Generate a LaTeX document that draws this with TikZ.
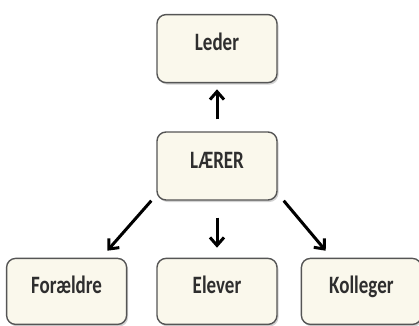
\documentclass[tikz,border=0pt]{standalone}
\usepackage{fontspec}
\setmainfont{Carlito}[FakeStretch=0.76]
\usepackage{tikz}
\usetikzlibrary{arrows.meta, positioning, shadows}
\definecolor{boxfill}{HTML}{FAF8EC}
\definecolor{boxline}{HTML}{555555}
\definecolor{textgray}{HTML}{2E2E2E}

\begin{document}
\begin{tikzpicture}[
        x=1pt, y=1pt,
        node distance=48pt and 29pt,
        box/.style={rectangle, rounded corners=9pt, draw=boxline, fill=boxfill, line width=1.4pt,
                   minimum height=68pt, minimum width=120pt, align=center,
                   text height=0.62em, text depth=0.22em,
                   text=textgray, font=\fontsize{25}{28}\selectfont\bfseries,
                   drop shadow={shadow xshift=1.5pt, shadow yshift=-2pt, opacity=0.35}},
        lowbox/.style={box, minimum height=66pt},
        arrow/.style={-{Straight Barb[length=8pt, width=14pt]}, line width=3pt}
    ]
    \useasboundingbox (0,0) rectangle (419,325);

    \node[box] (laerer) at (217,159) {LÆRER};
    \node[box, above=of laerer] (leder) {Leder};
    \node[lowbox, below=57pt of laerer] (elever) {Elever};
    \node[lowbox, left=29pt of elever] (foraeldre) {Forældre};
    \node[lowbox, right=23pt of elever] (kolleger) {Kolleger};

    \draw[arrow, shorten <=12pt, shorten >=6pt] (laerer) -- (leder);
    \draw[arrow, shorten <=17pt, shorten >=10pt] (laerer) -- (elever);
    \draw[arrow] ([xshift=-5pt]laerer.south west) -- ([xshift=-20pt, yshift=7pt]foraeldre.north east);
    \draw[arrow] ([xshift=6pt]laerer.south east) -- ([xshift=25pt, yshift=7pt]kolleger.north west);

\end{tikzpicture}
\end{document}
